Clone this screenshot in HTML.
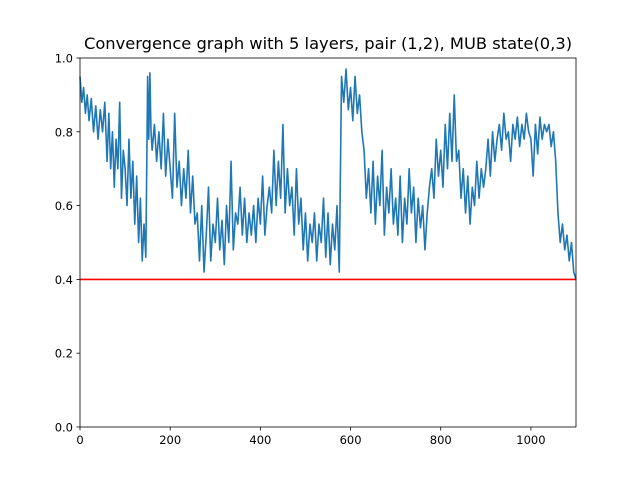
<!DOCTYPE html>
<html><head><meta charset="utf-8"><style>
body{margin:0;background:#fff;}
svg{display:block;font-family:"DejaVu Sans","Liberation Sans",sans-serif;}
</style></head><body>
<svg id="chart" width="640" height="480" viewBox="0 0 640 480">
<rect width="640" height="480" fill="#fff"/>
<text x="328" y="49" font-size="16.3" text-anchor="middle">Convergence graph with 5 layers, pair (1,2), MUB state(0,3)</text>
<g id="plot"></g>
</svg>
<script>
const xTicks=[0,200,400,600,800,1000];
const yTicks=[0.0,0.2,0.4,0.6,0.8,1.0];
const threshold=0.4;
const xMax=1100;
const segStarts=[0,20,60,100,130,150,160,200,260,300,350,420,470,520,580,630,700,780,840,900,960,1060];
const segEnd=1100;
const segValues=[
[0.95,0.88,0.92,0.85,0.90],
[0.83,0.89,0.80,0.87,0.78,0.86,0.80,0.88],
[0.72,0.85,0.70,0.80,0.65,0.78,0.70,0.88,0.62,0.75],
[0.70,0.60,0.78,0.62,0.72,0.55,0.68],
[0.50,0.62,0.45,0.55,0.46],
[0.95,0.78,0.96,0.80],
[0.75,0.82,0.72,0.80,0.70,0.85,0.68,0.78],
[0.70,0.62,0.85,0.65,0.72,0.60,0.70,0.62,0.75,0.58,0.68,0.55],
[0.58,0.45,0.60,0.42,0.52,0.65,0.45,0.55],
[0.50,0.62,0.48,0.56,0.44,0.60,0.50,0.72,0.48,0.58],
[0.55,0.65,0.52,0.62,0.50,0.58,0.52,0.60,0.50,0.62,0.55,0.68,0.52,0.60],
[0.65,0.58,0.75,0.60,0.72,0.62,0.82,0.58,0.70,0.60],
[0.65,0.52,0.70,0.55,0.62,0.48,0.58,0.45,0.55,0.50],
[0.58,0.45,0.55,0.50,0.62,0.46,0.58,0.44,0.55,0.48,0.60,0.42],
[0.95,0.88,0.97,0.86,0.92,0.83,0.95,0.85,0.90,0.80],
[0.75,0.62,0.70,0.58,0.72,0.55,0.68,0.60,0.75,0.52,0.65,0.58,0.70,0.55],
[0.62,0.52,0.68,0.50,0.62,0.55,0.70,0.58,0.65,0.50,0.62,0.54,0.60,0.48,0.58,0.65],
[0.70,0.62,0.78,0.68,0.75,0.65,0.82,0.70,0.85,0.72,0.90,0.72],
[0.75,0.62,0.70,0.58,0.68,0.55,0.65,0.60,0.72,0.62,0.70,0.65],
[0.70,0.78,0.68,0.80,0.72,0.78,0.82,0.75,0.85,0.78,0.80,0.72],
[0.82,0.78,0.84,0.76,0.82,0.78,0.85,0.80,0.78,0.68,0.82,0.74,0.84,0.78,0.82,0.80,0.82,0.76,0.80,0.72],
[0.58,0.50,0.55,0.48,0.52,0.45,0.50,0.42,0.40]];
const L=80,R=576,T=58,B=427;
const xs=v=>L+(v/xMax)*(R-L);
const ys=v=>B-v*(B-T);
const NS="http://www.w3.org/2000/svg";
const g=document.getElementById('plot');
function mk(tag,attrs){const e=document.createElementNS(NS,tag);for(const k in attrs)e.setAttribute(k,attrs[k]);g.appendChild(e);return e;}
const pts=[];
segValues.forEach((vals,si)=>{
  const a=segStarts[si], b=(si+1<segStarts.length?segStarts[si+1]:segEnd);
  const last=si===segValues.length-1;
  const step=(b-a)/(last?vals.length-1:vals.length);
  vals.forEach((v,i)=>pts.push(xs(a+i*step).toFixed(2)+','+ys(v).toFixed(2)));
});
const line=mk('polyline',{points:pts.join(' '),fill:'none',stroke:'#1f77b4','stroke-width':1.6,'stroke-linejoin':'round'});


const th=mk('line',{x1:L,x2:R,y1:ys(threshold),y2:ys(threshold),stroke:'#ff0000','stroke-width':1.6});


const frame=mk('rect',{x:L,y:T,width:R-L,height:B-T,fill:'none',stroke:'#000','stroke-width':0.8});


xTicks.forEach(t=>{
  const tk=mk('line',{x1:xs(t),x2:xs(t),y1:B,y2:B+3.5,stroke:'#000','stroke-width':0.8});
  
  
  const tx=mk('text',{x:xs(t),y:B+17,'font-size':11.5,'text-anchor':'middle'});
  tx.textContent=t;
  
  
});
yTicks.forEach(t=>{
  const tk=mk('line',{x1:L-3.5,x2:L,y1:ys(t),y2:ys(t),stroke:'#000','stroke-width':0.8});
  
  
  const tx=mk('text',{x:L-7,y:ys(t)+4.5,'font-size':11.5,'text-anchor':'end'});
  tx.textContent=t.toFixed(1);
  
  
});
</script>
</body></html>
